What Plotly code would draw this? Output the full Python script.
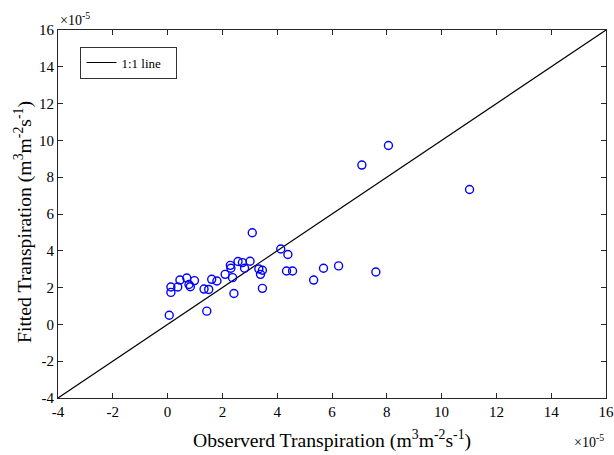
import plotly.graph_objects as go

# values in units of 1e-5 m3 m-2 s-1
observed = [3.09, 4.13, 4.39, 6.24, 5.69, 5.33, 4.34, 4.56, 3.46, 3.33, 3.46, 3.39,
            3.01, 2.81, 2.57, 2.73, 2.29, 2.31, 2.37, 2.10, 2.42, 1.61, 1.80, 1.33,
            1.50, 1.43, 0.06, 0.98, 0.70, 0.45, 0.78, 0.83, 0.37, 0.12, 0.12,
            8.06, 7.09, 11.02, 7.60]
fitted = [4.98, 4.10, 3.80, 3.18, 3.05, 2.41, 2.90, 2.90, 1.96, 3.01, 2.94, 2.72,
          3.43, 3.05, 3.42, 3.36, 3.21, 3.05, 2.54, 2.72, 1.68, 2.45, 2.36, 1.92,
          1.90, 0.72, 0.50, 2.38, 2.52, 2.41, 2.17, 2.05, 2.03, 2.03, 1.74,
          9.72, 8.66, 7.33, 2.85]
line_x = [-4, 16]
line_y = [-4, 16]
ticks = list(range(-4, 17, 2))

FONT = "Liberation Serif, Times New Roman, serif"

fig = go.Figure()
fig.add_trace(go.Scatter(x=line_x, y=line_y, mode="lines", name="1:1 line\u00a0\u00a0\u00a0",
                         line=dict(color="black", width=1.2)))
fig.add_trace(go.Scatter(x=observed, y=fitted, mode="markers", showlegend=False,
                         marker=dict(symbol="circle-open", size=8, color="#0000FF",
                                     line=dict(width=1.4, color="#0000FF"))))

axis_common = dict(range=[-4, 16], tickvals=ticks, ticktext=[str(t) for t in ticks],
                   showgrid=False, zeroline=False, showline=True, linecolor="#262626",
                   linewidth=1, mirror="ticks", ticks="inside", ticklen=5,
                   tickcolor="#262626", automargin=False, ticklabeloverflow="allow",
                   tickfont=dict(family=FONT, size=15, color="black"))

fig.update_layout(
    width=614, height=455,
    margin=dict(l=58, r=8, t=30, b=57),
    paper_bgcolor="white", plot_bgcolor="white",
    font=dict(family=FONT, color="black"),
    xaxis=dict(**axis_common),
    yaxis=dict(**axis_common),
    legend=dict(x=0.041, y=0.955, xanchor="left", yanchor="top",
                bgcolor="white", bordercolor="#333333", borderwidth=1,
                font=dict(family=FONT, size=13)),
    annotations=[
        dict(text="Observerd Transpiration (m<sup>3</sup>m<sup>-2</sup>s<sup>-1</sup>)",
             xref="paper", yref="paper", x=0.5, y=-0.112, xanchor="center",
             yanchor="middle", showarrow=False, font=dict(family=FONT, size=19.7)),
        dict(text="Fitted Transpiration (m<sup>3</sup>m<sup>-2</sup>s<sup>-1</sup>)",
             xref="paper", yref="paper", x=-0.064, y=0.478, xanchor="center",
             yanchor="middle", textangle=-90, showarrow=False,
             font=dict(family=FONT, size=19.7)),
        dict(text="×10<sup>-5</sup>", xref="paper", yref="paper", x=0.0, y=1.0,
             xanchor="left", yanchor="bottom", showarrow=False,
             font=dict(family=FONT, size=14)),
        dict(text="×10<sup>-5</sup>", xref="paper", yref="paper", x=1.0, y=-0.117,
             xanchor="right", yanchor="middle", showarrow=False,
             font=dict(family=FONT, size=14)),
    ],
)

# remove the browser's default 8px body margin so the figure sits at the page origin
fig.write_html("out.html", config={"displayModeBar": False},
               post_script="document.body.style.margin='0px';")
